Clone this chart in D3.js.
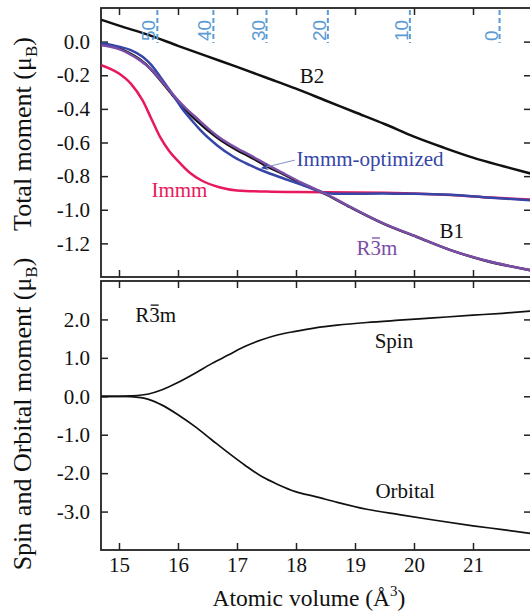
<!DOCTYPE html>
<html>
<head>
<meta charset="utf-8">
<script src="https://cdn.jsdelivr.net/npm/d3@7"></script>
<style>
  html, body { margin: 0; padding: 0; background: #fff; }
  svg { display: block; }
  svg text { font-family: "Liberation Serif", "Tinos", "Times New Roman", Times, "DejaVu Serif", serif; }
  svg text.sans { font-family: "Liberation Sans", Arial, "DejaVu Sans", sans-serif; }
</style>
</head>
<body>
<svg id="chart" width="530" height="612"></svg>
<script>
// ---------------- data ----------------
const xTicks = [15, 16, 17, 18, 19, 20, 21];
const topYTicks = [0.0, -0.2, -0.4, -0.6, -0.8, -1.0, -1.2];
const botYTicks = [2.0, 1.0, 0.0, -1.0, -2.0, -3.0];
const pressureLabels = [50, 40, 30, 20, 10, 0];           // GPa (top axis)
const pressureVolumes = [15.65, 16.60, 17.50, 18.54, 19.93, 21.45];

const b2Data = [[14.7,0.13],[15.0,0.095],[15.5,0.04],[16.0,-0.025],[16.5,-0.088],[17.0,-0.15],[17.5,-0.215],[18.0,-0.28],[18.5,-0.35],[19.0,-0.42],[19.5,-0.49],[20.0,-0.565],[20.5,-0.63],[21.0,-0.69],[21.5,-0.74],[21.98,-0.785]];
const b1Data = [[14.7,-0.012],[15.0,-0.04],[15.16,-0.065],[15.35,-0.105],[15.53,-0.16],[15.7,-0.23],[15.9,-0.315],[16.1,-0.395],[16.3,-0.465],[16.66,-0.57],[17.0,-0.645],[17.22,-0.685],[17.5,-0.74],[17.79,-0.79],[18.1,-0.845],[18.49,-0.905],[18.92,-0.985],[19.48,-1.082],[20.05,-1.162],[20.62,-1.24],[21.18,-1.3],[21.98,-1.36]];
const r3mData = [[14.7,-0.022],[15.0,-0.045],[15.16,-0.07],[15.35,-0.11],[15.53,-0.16],[15.7,-0.225],[15.9,-0.309],[16.1,-0.385],[16.3,-0.45],[16.66,-0.56],[17.0,-0.635],[17.22,-0.675],[17.5,-0.73],[17.79,-0.784],[18.1,-0.84],[18.49,-0.903],[18.92,-0.983],[19.48,-1.081],[20.05,-1.161],[20.62,-1.24],[21.18,-1.299],[21.98,-1.36]];
const immmOptData = [[14.7,-0.008],[15.0,-0.03],[15.2,-0.05],[15.4,-0.09],[15.55,-0.14],[15.7,-0.21],[15.9,-0.309],[16.09,-0.408],[16.25,-0.475],[16.38,-0.527],[16.66,-0.616],[16.94,-0.685],[17.22,-0.735],[17.5,-0.777],[17.79,-0.814],[18.1,-0.852],[18.35,-0.884],[18.49,-0.9],[18.8,-0.905],[19.48,-0.904],[20.0,-0.905],[20.62,-0.911],[21.18,-0.925],[21.98,-0.944]];
const immmData = [[14.7,-0.14],[15.0,-0.19],[15.2,-0.25],[15.4,-0.35],[15.55,-0.46],[15.7,-0.57],[15.85,-0.65],[16.0,-0.71],[16.2,-0.78],[16.4,-0.826],[16.7,-0.866],[17.0,-0.885],[17.5,-0.892],[18.0,-0.895],[19.0,-0.897],[19.5,-0.899],[20.0,-0.903],[20.62,-0.912],[21.3,-0.927],[21.98,-0.94]];
const spinData = [[14.7,0],[15.0,0],[15.2,0.01],[15.5,0.06],[15.73,0.17],[16.0,0.36],[16.29,0.6],[16.57,0.85],[16.86,1.08],[17.14,1.3],[17.42,1.47],[17.7,1.6],[17.99,1.69],[18.33,1.78],[18.7,1.85],[19.2,1.92],[19.75,1.98],[20.33,2.04],[21.0,2.11],[21.5,2.16],[21.98,2.22]];
const orbitalData = [[14.7,0],[15.0,0],[15.2,-0.01],[15.5,-0.08],[15.73,-0.23],[16.0,-0.48],[16.29,-0.79],[16.57,-1.13],[16.86,-1.48],[17.14,-1.8],[17.42,-2.09],[17.7,-2.3],[17.99,-2.48],[18.33,-2.61],[18.7,-2.76],[19.2,-2.94],[19.75,-3.08],[20.33,-3.22],[21.0,-3.37],[21.5,-3.47],[21.98,-3.57]];

// ---------------- layout ----------------
const svg = d3.select("#chart");
const left = 101, right = 531;
const topP = {y0: 8, y1: 277};
const botP = {y0: 281, y1: 550};
const C = {axis: "#222", black: "#111", red: "#e8185c", blue: "#3546a8", purple: "#7a4ea6", press: "#5b9bd5"};
const SERIF = '"Liberation Serif", "Tinos", "Times New Roman", Times, "DejaVu Serif", serif';

const x = d3.scaleLinear().domain([15, 21]).range([119, 473]);
const yTop = d3.scaleLinear().domain([-1.4, 0.2]).range([topP.y1, topP.y0]);
const yBot = d3.scaleLinear().domain([-4, 3]).range([botP.y1, botP.y0]);

const defs = svg.append("defs");
defs.append("clipPath").attr("id", "clipTop").append("rect")
  .attr("x", left).attr("y", topP.y0).attr("width", right - left).attr("height", topP.y1 - topP.y0);
defs.append("clipPath").attr("id", "clipBot").append("rect")
  .attr("x", left).attr("y", botP.y0).attr("width", right - left).attr("height", botP.y1 - botP.y0);
defs.append("marker").attr("id", "arrowBlue").attr("viewBox", "0 0 10 10")
  .attr("refX", 9).attr("refY", 5).attr("markerWidth", 9).attr("markerHeight", 7)
  .attr("markerUnits", "userSpaceOnUse").attr("orient", "auto")
  .append("path").attr("d", "M0,0 L10,5 L0,10 L3,5 Z").attr("fill", C.blue);

const fmt = d3.format(".1f");
const fmtTick = v => fmt(v).replace("−", "-");

function styleAxis(g) {
  g.attr("font-family", null).attr("font-size", null);
  g.select(".domain").remove();
  g.selectAll(".tick line").attr("stroke", C.axis).attr("stroke-width", 1.5);
  g.selectAll(".tick text").attr("fill", "#111").style("font-family", SERIF).style("font-size", "21px");
}

// ---------------- panels ----------------
function panelFrame(P, yScale, yTickVals, labelBottom) {
  svg.append("g").attr("transform", `translate(${left},0)`)
    .call(d3.axisLeft(yScale).tickValues(yTickVals).tickSize(-7).tickPadding(11).tickFormat(fmtTick))
    .call(styleAxis);
  svg.append("g").attr("transform", `translate(${right},0)`)
    .call(d3.axisRight(yScale).tickValues(yTickVals).tickSize(-7).tickFormat(""))
    .call(styleAxis);
  svg.append("g").attr("transform", `translate(0,${P.y0})`)
    .call(d3.axisTop(x).tickValues(xTicks).tickSize(-7).tickFormat(""))
    .call(styleAxis);
  svg.append("g").attr("transform", `translate(0,${P.y1})`)
    .call(d3.axisBottom(x).tickValues(xTicks).tickSize(-7).tickPadding(7)
      .tickFormat(labelBottom ? d3.format("d") : ""))
    .call(styleAxis);
  svg.append("rect").attr("x", left).attr("y", P.y0).attr("width", right - left).attr("height", P.y1 - P.y0)
    .attr("fill", "none").attr("stroke", C.axis).attr("stroke-width", 1.8);
}

panelFrame(topP, yTop, topYTicks, false);
panelFrame(botP, yBot, botYTicks, true);

// ---------------- curves ----------------
const lineTop = d3.line().x(d => x(d[0])).y(d => yTop(d[1])).curve(d3.curveMonotoneX);
const lineBot = d3.line().x(d => x(d[0])).y(d => yBot(d[1])).curve(d3.curveMonotoneX);

const gTop = svg.append("g").attr("clip-path", "url(#clipTop)");
[[b2Data, C.black], [b1Data, C.black], [immmData, C.red], [immmOptData, C.blue], [r3mData, C.purple]]
  .forEach(([d, c]) => gTop.append("path").datum(d).attr("d", lineTop)
    .attr("fill", "none").attr("stroke", c).attr("stroke-width", 2.5).attr("stroke-linejoin", "round"));

const gBot = svg.append("g").attr("clip-path", "url(#clipBot)");
[spinData, orbitalData].forEach(d => gBot.append("path").datum(d).attr("d", lineBot)
  .attr("fill", "none").attr("stroke", C.black).attr("stroke-width", 1.7));

// ---------------- pressure (top) scale ----------------
pressureVolumes.forEach((v, i) => {
  const px = x(v);
  svg.append("line").attr("x1", px).attr("x2", px).attr("y1", 10).attr("y2", 43)
    .attr("stroke", C.press).attr("stroke-width", 2).attr("stroke-dasharray", "5,3");
  svg.append("text").attr("class", "sans").attr("transform", `translate(${px - 2},41) rotate(-90)`)
    .attr("text-anchor", "start").style("font-size", "19px")
    .attr("fill", C.press).text(pressureLabels[i]);
});

// ---------------- annotations ----------------
function label(txt, xv, yv, yScale, color, anchor, overlineIdx) {
  const t = svg.append("text").attr("x", x(xv)).attr("y", yScale(yv))
    .attr("text-anchor", anchor).attr("fill", color).style("font-size", "21px").text(txt);
  if (overlineIdx != null) {
    const node = t.node();
    const p = node.getStartPositionOfChar(overlineIdx);
    const e = node.getEndPositionOfChar(overlineIdx);
    svg.append("line").attr("x1", p.x + 1.5).attr("x2", e.x - 1).attr("y1", p.y - 17).attr("y2", p.y - 17)
      .attr("stroke", color).attr("stroke-width", 1.3);
  }
  return t;
}
label("B2", 18.27, -0.246, yTop, C.black, "middle");
label("Immm-optimized", 18.01, -0.740, yTop, C.blue, "start");
label("Immm", 15.55, -0.924, yTop, C.red, "start");
label("B1", 20.64, -1.168, yTop, C.black, "middle");
label("R3m", 19.37, -1.269, yTop, C.purple, "middle", 1);
label("R3m", 15.62, 1.93, yBot, C.black, "middle", 1);
label("Spin", 19.66, 1.26, yBot, C.black, "middle");
label("Orbital", 19.85, -2.65, yBot, C.black, "middle");

svg.append("line")
  .attr("x1", x(17.98)).attr("y1", yTop(-0.705))
  .attr("x2", x(17.42)).attr("y2", yTop(-0.752))
  .attr("stroke", "#8890c8").attr("stroke-width", 1)
  .attr("marker-end", "url(#arrowBlue)");

// ---------------- axis titles ----------------
const xt = svg.append("text").attr("x", 309).attr("y", 606).attr("text-anchor", "middle")
  .style("font-size", "23.5px").attr("fill", "#111");
xt.append("tspan").text("Atomic volume (Å");
xt.append("tspan").attr("dy", -10).style("font-size", "15px").text("3");
xt.append("tspan").attr("dy", 10).text(")");

function yTitle(main, cy) {
  const t = svg.append("text").attr("transform", `translate(31,${cy}) rotate(-90)`)
    .attr("text-anchor", "middle").style("font-size", "26px").attr("fill", "#111");
  t.append("tspan").text(main + " (μ");
  t.append("tspan").attr("dy", 6).style("font-size", "17px").text("B");
  t.append("tspan").attr("dy", -6).text(")");
}
yTitle("Total moment", 134);
yTitle("Spin and Orbital moment", 414);
</script>
</body>
</html>
